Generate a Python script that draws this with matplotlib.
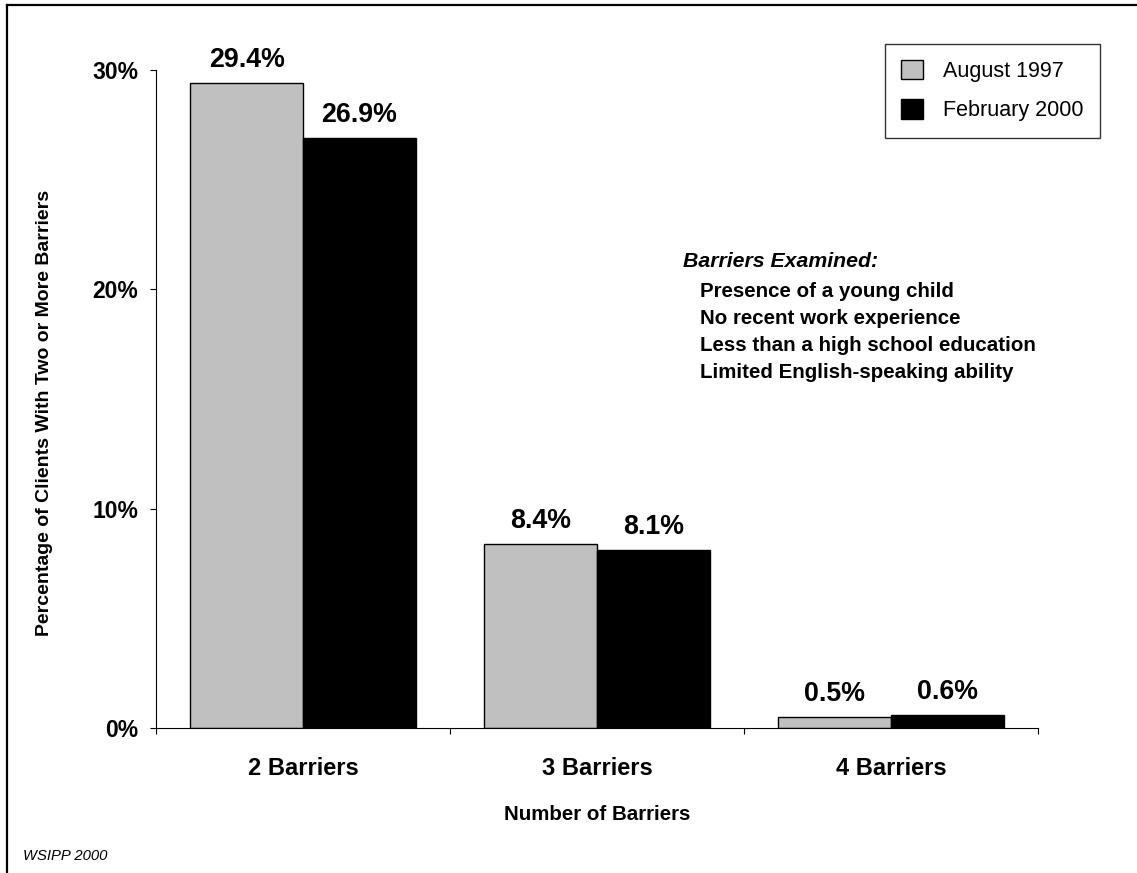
import numpy as np
import matplotlib
matplotlib.use("Agg")
from matplotlib import pyplot as plt
from matplotlib.lines import Line2D

plt.rcParams['font.family'] = ['Liberation Sans', 'DejaVu Sans']

categories = ["2 Barriers", "3 Barriers", "4 Barriers"]
series_names = ["August 1997", "February 2000"]
aug_1997 = [29.4, 8.4, 0.5]
feb_2000 = [26.9, 8.1, 0.6]
series_colors = ["#C0C0C0", "#000000"]
y_ticks = [0, 10, 20, 30]
barriers_examined = [
	"Presence of a young child",
	"No recent work experience",
	"Less than a high school education",
	"Limited English-speaking ability",
]

W, H = 1137, 873
fig = plt.figure(figsize=(W / 100, H / 100), dpi=100)

def px(x, y):
	# pixel position (from top-left) -> figure fraction
	return x / W, 1 - y / H

ax_l, ax_r, ax_t, ax_b = 156, 1038, 70, 728
ax = fig.add_axes([ax_l / W, 1 - ax_b / H, (ax_r - ax_l) / W, (ax_b - ax_t) / H])

centers = np.arange(len(categories)) + 0.5
bw = 0.383
for i, (vals, name) in enumerate(zip([aug_1997, feb_2000], series_names)):
	xs = centers + (i - 0.5) * bw
	ax.bar(xs, vals, width=bw, color=series_colors[i], edgecolor="black",
		linewidth=1, label=name)
	for x, v in zip(xs, vals):
		ax.annotate(f"{v:.1f}%", (x, v), xytext=(0, 11.5), textcoords="offset points",
			ha="center", va="baseline", fontsize=19.3, fontweight="bold")

ax.set_xlim(0, len(categories))
ax.set_ylim(0, 30)

ax.set_yticks(y_ticks)
ax.set_yticklabels([f"{t}%" for t in y_ticks], fontsize=16.5, fontweight="bold")
ax.tick_params(axis="y", direction="out", length=4.3, width=0.8, pad=8.5)

# boundaries between groups get tick marks, group names sit at the centres
ax.set_xticks(np.arange(len(categories) + 1))
ax.set_xticklabels([])
ax.tick_params(axis="x", which="major", direction="out", length=4.3, width=0.8)
ax.set_xticks(centers, minor=True)
ax.set_xticklabels(categories, minor=True, fontsize=17, fontweight="bold")
ax.tick_params(axis="x", which="minor", length=0, pad=21)

for s in ["top", "right"]:
	ax.spines[s].set_visible(False)
for s in ["left", "bottom"]:
	ax.spines[s].set_linewidth(0.8)

fig.text(*px(45, 413), "Percentage of Clients With Two or More Barriers", rotation=90,
	ha="center", va="center", fontsize=14, fontweight="bold")
fig.text(*px(597, 820), "Number of Barriers", ha="center", va="baseline",
	fontsize=14.8, fontweight="bold")

leg = ax.legend(loc="upper right", bbox_to_anchor=px(1100, 44), bbox_transform=fig.transFigure,
	borderaxespad=0, fancybox=False, edgecolor="#333333", fontsize=15.5,
	handlelength=1.0, handleheight=1.0, handletextpad=0.95, labelspacing=0.8,
	borderpad=0.75, framealpha=1)
leg.get_frame().set_linewidth(1)

fig.text(*px(683, 267), "Barriers Examined:", ha="left", va="baseline", fontsize=15.3,
	fontweight="bold", fontstyle="italic")
for k, line in enumerate(barriers_examined):
	fig.text(*px(700, 297 + k * 27), line, ha="left", va="baseline", fontsize=14.8,
		fontweight="bold")

fig.text(*px(23, 860), "WSIPP 2000", ha="left", va="baseline", fontsize=10.7,
	fontstyle="italic")

# frame lines along the top and left edge
fig.add_artist(Line2D([7 / W, 1], [1 - 5 / H, 1 - 5 / H], transform=fig.transFigure,
	color="black", linewidth=1.6))
fig.add_artist(Line2D([7 / W, 7 / W], [0, 1 - 5 / H], transform=fig.transFigure,
	color="black", linewidth=1.6))

fig.savefig("out.png", dpi=100)
